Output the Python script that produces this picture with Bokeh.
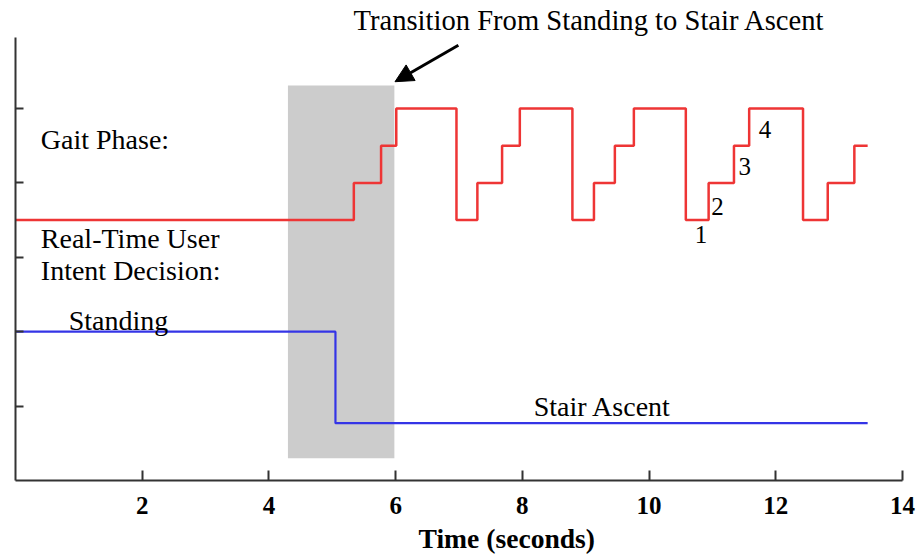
from bokeh.plotting import figure
from bokeh.models import Label, Arrow, NormalHead, FixedTicker, Range1d, Title
from bokeh.embed import file_html
from bokeh.resources import INLINE

# ---- data ----
red_time = [0.0, 5.34, 5.77, 6.01, 6.96, 7.29, 7.68, 7.96, 8.79, 9.13, 9.46, 9.76,
            10.58, 10.94, 11.34, 11.58, 12.43, 12.82, 13.24, 13.45]
red_level = [3.5, 4.0, 4.5, 5.0, 3.5, 4.0, 4.5, 5.0, 3.5, 4.0, 4.5, 5.0,
             3.5, 4.0, 4.5, 5.0, 3.5, 4.0, 4.5, 4.5]
blue_time = [0.0, 5.05, 13.45]
blue_level = [2.0, 0.77, 0.77]
transition_x = [4.30, 5.98]
transition_y = [0.30, 5.31]
x_ticks = [2, 4, 6, 8, 10, 12, 14]
y_ticks = [1, 2, 3, 4, 5]
phase_labels = ["1", "2", "3", "4"]

SERIF = "Liberation Serif"

p = figure(width=920, height=560, x_range=Range1d(0, 14), y_range=Range1d(0, 6.008),
           output_backend="svg", toolbar_location=None,
           min_border_left=15, min_border_right=18, min_border_top=33, min_border_bottom=80)
p.grid.visible = False
p.outline_line_color = None

top_title = Title(text="Transition From Standing to Stair Ascent", align="left", offset=338,
                  text_font=SERIF, text_font_size="28.6px", text_font_style="normal",
                  text_color="black", standoff=0)
try:
    top_title.standoff = -4
except Exception:
    pass
p.title = top_title
p.add_layout(Title(text="Time (seconds)", align="left", offset=403,
                   text_font=SERIF, text_font_size="27.6px", text_font_style="bold",
                   text_color="black", standoff=9), "below")

p.quad(left=[transition_x[0]], right=[transition_x[1]],
       bottom=[transition_y[0]], top=[transition_y[1]],
       fill_color="#cccccc", line_color=None)
p.step(red_time, red_level, mode="after", line_color="#ee3535", line_width=2.5)
p.step(blue_time, blue_level, mode="after", line_color="#3434e6", line_width=2.2)

for ax in (p.xaxis[0], p.yaxis[0]):
    ax.axis_line_color = "#333333"
    ax.axis_line_width = 2
    ax.major_tick_line_color = "#333333"
    ax.major_tick_line_width = 2
    ax.major_tick_out = 0
    ax.minor_tick_line_color = None

p.xaxis.ticker = FixedTicker(ticks=x_ticks)
p.xaxis.major_tick_in = 10
p.xaxis.major_label_text_font = SERIF
p.xaxis.major_label_text_font_style = "bold"
p.xaxis.major_label_text_font_size = "25px"
p.xaxis.major_label_text_color = "black"
p.xaxis.major_label_standoff = 16

p.yaxis.ticker = FixedTicker(ticks=y_ticks)
p.yaxis.bounds = (0, 5.95)
p.yaxis.major_tick_in = 8
p.yaxis.major_label_text_font_size = "0px"
p.yaxis.major_label_standoff = 0

def lab(x, y, t, size="28px"):
    p.add_layout(Label(x=x, y=y, text=t, text_font=SERIF, text_font_size=size,
                       text_color="black", text_align="left", text_baseline="alphabetic"))

lab(0.40, 4.59, "Gait Phase:")
lab(0.40, 3.25, "Real-Time User")
lab(0.40, 2.82, "Intent Decision:")
lab(0.84, 2.15, "Standing")
lab(8.18, 0.99, "Stair Ascent")

phase_x = [10.72, 10.98, 11.41, 11.73]
phase_y = [3.30, 3.68, 4.22, 4.72]
for px, py, t in zip(phase_x, phase_y, phase_labels):
    lab(px, py, t, size="25px")

p.add_layout(Arrow(end=NormalHead(size=18, fill_color="black", line_color="black"),
                   x_start=6.99, y_start=5.85, x_end=5.99, y_end=5.36,
                   line_width=3, line_color="black"))

open("out.html", "w").write(file_html(p, INLINE))
